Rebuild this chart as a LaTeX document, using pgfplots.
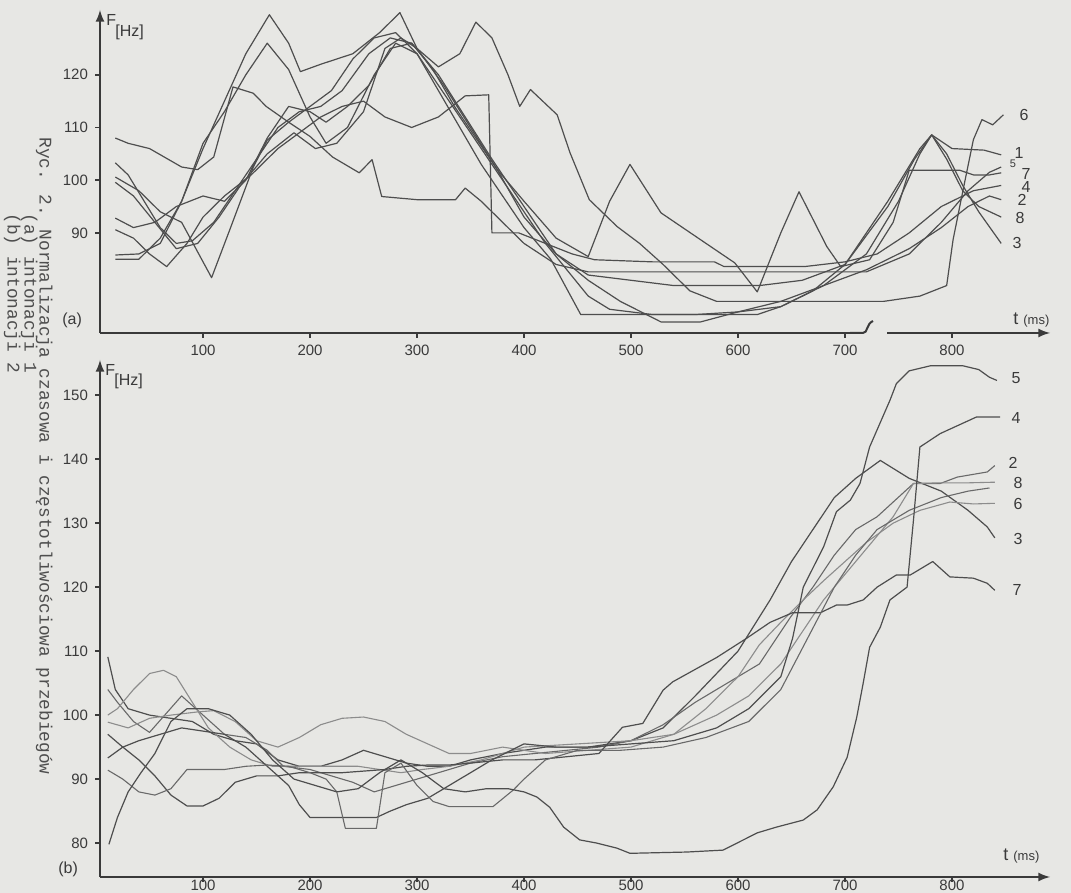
\documentclass[border=0pt]{standalone}
\usepackage{pgfplots}
\pgfplotsset{compat=1.18}
\usepackage{fontspec}
\setmainfont{Liberation Sans}
\newfontfamily\capfont{Liberation Mono}
\definecolor{paper}{RGB}{231,231,228}
\definecolor{ink}{RGB}{78,78,78}
\definecolor{inkm}{RGB}{105,105,105}
\definecolor{inkl}{RGB}{140,140,140}
\definecolor{axiscol}{RGB}{58,58,58}
\tikzset{L/.style={ink, line width=0.6pt, line join=round},
         LM/.style={inkm, line width=0.55pt, line join=round},
         LL/.style={inkl, line width=0.55pt, line join=round}}
\pgfplotsset{myaxis/.style={
  scale only axis, anchor=south west, enlargelimits=false,
  axis x line=bottom, axis y line=left,
  axis line style={line width=1pt, draw=axiscol, -latex},
  xmin=3.7, xmax=891.6, xtick={100,200,...,800},
  tick align=outside, major tick length=2.5pt,
  every tick/.style={axiscol, line width=0.8pt},
  ticklabel style={font=\fontsize{7.5}{8}\selectfont, text=axiscol},
  /pgf/number format/assume math mode=true,
  clip=false}}
\begin{document}
\begin{tikzpicture}[x=0.5pt,y=0.5pt]
\fill[paper] (0,0) rectangle (1071,893);
\useasboundingbox (0,0) rectangle (1071,893);

% caption (three typewritten lines, rotated)
\begin{scope}[every node/.style={rotate=-90, anchor=north west, inner sep=0pt,
      font=\capfont\fontsize{8.9}{9}\selectfont, text=ink}]
\node at (53,756) {Ryc. 2. Normalizacja czasowa i częstotliwościowa przebiegów};
\node at (38,680) {(a) intonacji 1};
\node at (21,680) {(b) intonacji 2};
\end{scope}

% ---------------- top panel (a)
\begin{axis}[myaxis, at={(50pt,280pt)}, width=475pt, height=161.5pt,
  ymin=71, ymax=132.3, ytick={90,100,110,120}]
\addplot[L] coordinates {(18,103.3) (30,101) (45,96) (60,91) (75,88) (90,88.5) (110,92) (130,98) (150,104) (170,110) (190,113) (210,114) (230,117) (255,124) (275,127) (295,126) (320,120) (345,112) (370,104) (400,95) (430,86) (460,82) (500,81) (540,80) (580,80) (620,80) (660,81) (700,84) (740,95) (765,104) (781,108.6) (800,106) (830,105.7) (846,104.8)};
\addplot[L] coordinates {(18,99.6) (35,97) (55,92) (75,87) (95,88) (115,93) (135,99) (160,105) (185,109) (205,106) (225,107) (250,113) (270,125) (285,127) (300,125) (325,118) (350,110) (375,102) (400,93) (430,86) (460,81) (490,77) (528,73.1) (565,73.1) (600,75) (640,77) (680,80) (720,83) (760,87) (790,91) (815,95) (835,97) (846,96.3)};
\addplot[L] coordinates {(18,85) (40,85) (60,89) (80,96) (100,107) (120,113) (140,120) (160,126) (180,121) (200,112) (215,107) (235,110) (260,120) (280,126) (300,124) (320,117) (340,110) (360,103) (380,97) (400,91) (425,85) (453,74.5) (520,74.5) (618,74.5) (640,76) (670,79) (700,84) (740,96) (770,106) (781,108.6) (795,105) (810,99) (825,94) (846,88)};
\addplot[L] coordinates {(18,90.6) (35,89) (50,86) (66,83.6) (85,88) (100,93) (120,97) (145,101) (170,106) (190,109) (210,112) (230,114) (250,115) (270,112) (295,110) (320,112) (345,116) (367,116.2) (370,90) (395,90) (420,88) (445,86) (466,84.9) (520,84.5) (578,84.5) (587,83.6) (662,83.6) (700,84.5) (730,86) (760,90) (790,95) (820,98) (846,99)};
\addplot[L] coordinates {(18,108) (30,107) (50,106) (80,102.5) (95,102) (110,104.4) (128,117.7) (147,116.5) (159,114) (180,111) (200,108.3) (221,104.4) (246,101.4) (258,103.9) (267,96.9) (300,96.3) (336,96.3) (345,98.5) (360,96) (380,92) (400,88) (430,84) (460,82.6) (575,82.6) (640,82.6) (720,82.6) (760,86) (790,92) (815,98) (835,101.5) (846,102.5)};
\addplot[L] coordinates {(18,85.8) (40,86) (60,88) (80,96) (100,106) (120,115) (140,124) (162,131.4) (180,126) (191,120.6) (210,122) (240,124) (265,128) (284,131.8) (300,125) (320,121.5) (340,124) (355,130) (370,127) (385,120) (396,114) (406,117.2) (431,112.4) (443,105.2) (461,96.3) (487,91.2) (508,88) (530,84) (555,79) (580,77) (664,77) (736,77) (770,78) (795,80) (801,88.7) (811,98.8) (820,107.7) (828,111.5) (838,110.5) (848,112.4)};
\addplot[L] coordinates {(18,92.8) (35,91) (55,92) (75,95) (100,97) (120,96) (140,100) (160,108) (180,114) (200,113) (215,111) (235,114) (255,118) (275,125) (295,126) (315,121) (335,114) (355,108) (375,102) (400,96) (430,89) (460,85.5) (480,96) (499,103) (528,93.8) (565,88.7) (597,84.3) (618,78.8) (640,90) (657,97.8) (683,87.4) (696,83.6) (723,84.9) (745,92) (760,101.9) (807,101.9) (820,101) (835,101) (846,101.4)};
\addplot[L] coordinates {(18,100.6) (40,98) (60,94) (80,92) (108,81.5) (125,90.6) (147,102.5) (160,107.6) (180,111) (200,114) (220,117) (240,123) (260,127) (280,128) (300,124) (320,118) (340,112) (360,106) (380,100) (400,94) (420,88) (440,83) (460,78) (480,75.5) (520,74.5) (560,74.5) (600,75) (640,76) (680,80) (720,86) (750,96) (770,105) (781,108.6) (795,104) (810,98) (825,95) (846,93)};
\end{axis}

% axis break on top x axis
\fill[paper] (862,553) rectangle (887,566);
\draw[axiscol, line width=1pt] (850,560) -- (863,560) .. controls (868,560) and (866,569) .. (873,572);

% ---------------- bottom panel (b)
\begin{axis}[myaxis, at={(50pt,8pt)}, width=475pt, height=258.5pt,
  ymin=74.7, ymax=155.5, ytick={80,90,...,150},
  xticklabel style={yshift=4.5pt}]
\addplot[L] coordinates {(11,109.1) (18,104) (30,101) (50,100) (70,99.5) (90,99) (110,97) (130,96) (150,95.5) (170,93) (190,92) (210,92) (230,93) (250,94.5) (270,93.5) (290,92.5) (310,92) (330,92) (350,93) (380,94) (420,95) (460,95) (500,96) (530,98) (560,103) (600,110) (630,118) (650,124) (670,129) (690,134) (710,137) (733,139.8) (760,137) (790,135) (815,132) (833,129.4) (840,127.7)};
\addplot[LM] coordinates {(11,104) (20,102) (35,99) (50,97.3) (80,103) (100,100) (120,97) (140,96.5) (160,94.5) (175,92) (200,91.5) (220,90.5) (240,89.5) (260,88) (280,89) (300,90) (320,91) (350,92.5) (380,93.5) (410,94) (440,94.5) (470,95) (500,96) (530,98.5) (560,102) (590,105) (620,108) (649,115.3) (670,120) (690,125) (710,129) (730,131) (764,136.2) (789,136.2) (805,137.2) (833,138) (840,139)};
\addplot[LL] coordinates {(11,100) (20,101) (35,104) (50,106.5) (63,107) (75,106) (90,102) (105,98) (125,95) (145,93) (165,92) (185,92) (205,92) (225,92) (245,92) (265,91.5) (285,91) (305,91.5) (330,92) (360,93) (400,95) (450,95.5) (500,96) (540,97) (580,100) (610,103) (640,108) (660,113) (680,118) (700,122) (720,126) (745,131) (764,136.2) (790,136.3) (815,136.3) (840,136.4)};
\addplot[LL] coordinates {(11,98.9) (30,98) (50,99.5) (70,100) (95,100.5) (110,100.7) (130,99) (150,96) (170,95) (190,96.5) (210,98.5) (230,99.5) (250,99.7) (270,99) (290,97) (310,95.5) (330,94) (350,94) (380,95) (420,94) (460,94.5) (500,95) (540,97) (570,101) (600,106) (620,111) (640,114.5) (661,118) (680,121) (700,124) (720,127) (745,130) (770,132) (798,133.3) (820,133) (840,133.1)};
\addplot[L] coordinates {(11,97) (25,95) (40,93) (55,90.5) (70,87.5) (85,85.8) (100,85.8) (115,87) (130,89.5) (150,90.5) (170,90.5) (190,91) (230,91) (270,91.5) (290,92) (310,92.2) (330,92.2) (350,92.5) (380,93) (410,93) (440,93.5) (470,94) (492,98.1) (511,98.7) (530,103.9) (539,105.2) (580,109) (608,112) (630,114.5) (651,116) (677,116) (692,117.2) (702,117.2) (717,118) (730,120) (748,121.9) (761,121.9) (782,124) (798,121.6) (820,121.4) (833,120.6) (840,119.5)};
\addplot[L] coordinates {(11,93.3) (25,95) (40,96) (60,97) (80,98) (100,97.5) (120,97) (140,95) (160,92) (180,89) (190,86) (200,84) (262,84) (275,85) (290,86) (310,87) (330,89) (350,91) (370,93) (400,95.5) (430,95) (460,95) (500,95.5) (540,96) (580,98) (610,101) (640,106) (651,112) (661,120) (680,126.3) (692,131.8) (705,133.6) (714,136.2) (723,141.9) (742,149.2) (748,151.8) (760,153.8) (780,154.6) (810,154.6) (825,154) (835,152.8) (842,152.3)};
\addplot[LM] coordinates {(11,91.4) (25,90) (40,88) (55,87.5) (70,88.5) (85,91.5) (100,91.5) (120,91.5) (140,92) (160,92.2) (180,92) (200,91) (215,90) (225,88) (233,82.3) (262,82.3) (270,91) (285,92.5) (300,89) (315,86.5) (330,85.7) (371,85.7) (390,88.3) (400,90) (420,93) (450,94.5) (490,94.5) (530,95) (570,96.5) (610,99) (640,104) (665,112) (690,120) (710,125) (730,129) (760,132) (790,134) (815,135) (835,135.5)};
\addplot[L] coordinates {(12,79.8) (20,84) (30,88) (42,91) (55,94) (70,99) (85,101) (105,101) (125,100) (145,97) (165,93) (185,90) (205,89) (225,88) (245,88.5) (265,91) (285,93) (305,91) (325,88.5) (345,88) (365,88.5) (385,88.5) (400,88) (412,87.2) (424,85.6) (437,82.5) (452,80.5) (468,80) (487,79.2) (499,78.4) (552,78.6) (586,78.9) (605,80.5) (618,81.6) (636,82.5) (661,83.6) (674,85.2) (689,88.8) (702,93.4) (711,99.7) (717,105) (723,110.6) (733,113.75) (742,118) (758,120) (764,130.5) (770,141.9) (789,144) (823,146.6) (845,146.6)};
\end{axis}

% axis titles
\begin{scope}[every node/.style={inner sep=0pt, text=axiscol}]
\node[anchor=base west, font=\fontsize{8}{8}\selectfont] at (106,867) {F};
\node[anchor=base west, font=\fontsize{8}{8}\selectfont] at (115,856) {[Hz]};
\node[anchor=base west, font=\fontsize{8}{8}\selectfont] at (105,517) {F};
\node[anchor=base west, font=\fontsize{8}{8}\selectfont] at (114,507) {[Hz]};
\node[anchor=base west, font=\fontsize{9}{9}\selectfont] at (1013,568) {t};
\node[anchor=base west, font=\fontsize{6.5}{7}\selectfont] at (1023,568) {(ms)};
\node[anchor=base west, font=\fontsize{9}{9}\selectfont] at (1003,32) {t};
\node[anchor=base west, font=\fontsize{6.5}{7}\selectfont] at (1013,32) {(ms)};
\node[anchor=base west, font=\fontsize{8}{8}\selectfont] at (62,568) {(a)};
\node[anchor=base west, font=\fontsize{8}{8}\selectfont] at (58,19) {(b)};
% series numbers, top
\node[font=\fontsize{8}{8}\selectfont] at (1024,778) {6};
\node[font=\fontsize{8}{8}\selectfont] at (1019,740) {1};
\node[font=\fontsize{5.5}{6}\selectfont] at (1013,729) {5};
\node[font=\fontsize{8}{8}\selectfont] at (1026,719) {7};
\node[font=\fontsize{8}{8}\selectfont] at (1026,706) {4};
\node[font=\fontsize{8}{8}\selectfont] at (1022,693) {2};
\node[font=\fontsize{8}{8}\selectfont] at (1020,675) {8};
\node[font=\fontsize{8}{8}\selectfont] at (1017,650) {3};
% series numbers, bottom
\node[font=\fontsize{8}{8}\selectfont] at (1016,515) {5};
\node[font=\fontsize{8}{8}\selectfont] at (1016,475) {4};
\node[font=\fontsize{8}{8}\selectfont] at (1013,430) {2};
\node[font=\fontsize{8}{8}\selectfont] at (1018,410) {8};
\node[font=\fontsize{8}{8}\selectfont] at (1018,389) {6};
\node[font=\fontsize{8}{8}\selectfont] at (1018,354) {3};
\node[font=\fontsize{8}{8}\selectfont] at (1017,303) {7};
\end{scope}
\end{tikzpicture}
\end{document}
